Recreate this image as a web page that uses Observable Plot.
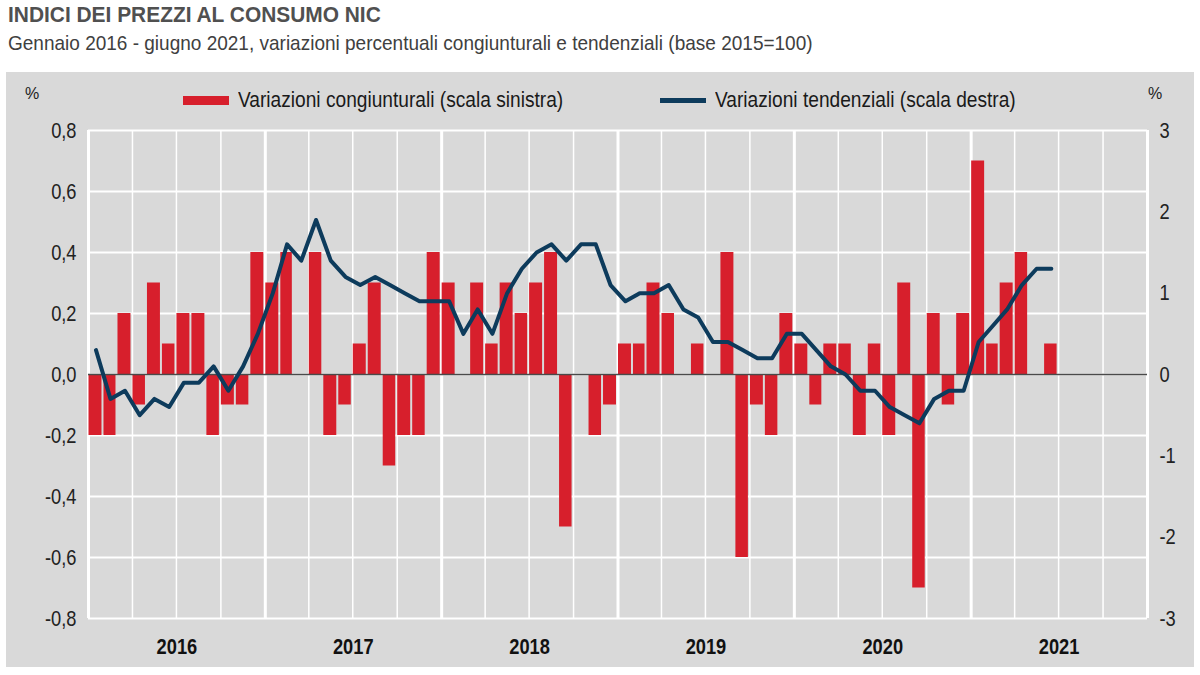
<!DOCTYPE html>
<html><head><meta charset="utf-8">
<script src="https://cdn.jsdelivr.net/npm/d3@7"></script>
<script src="https://cdn.jsdelivr.net/npm/@observablehq/plot@0.6"></script>
<style>
body{margin:0;background:#fff;font-family:"Liberation Sans Narrow","Arial Narrow","Liberation Sans",Arial,sans-serif;}
#wrap{position:relative;width:1200px;height:675px;overflow:hidden;}
#title{position:absolute;left:8px;top:2px;font-size:22px;font-weight:bold;color:#505050;white-space:nowrap;transform:scaleX(0.95);transform-origin:0 0;}
#sub{position:absolute;left:8px;top:31px;font-size:21px;color:#404040;white-space:nowrap;transform:scaleX(0.905);transform-origin:0 0;}
#panel{position:absolute;left:6px;top:72px;width:1188px;height:595px;background:#d9d9d9;}
#panel svg{position:absolute;left:0;top:0;}
.pct{position:absolute;top:13px;font-size:16px;color:#222;}
.leg{position:absolute;top:15px;font-size:22px;color:#1a1a1a;white-space:nowrap;display:flex;align-items:center;}
.leg span.t{display:inline-block;transform:scaleX(0.87);transform-origin:0 50%;}
.sw1{display:inline-block;width:46px;height:9px;background:#d71f2c;margin-right:9px;}
.sw2{display:inline-block;width:46px;height:5px;background:#0d3b5c;margin-right:9px;}
</style>
</head><body>
<div id="wrap">
  <div id="title">INDICI DEI PREZZI AL CONSUMO NIC</div>
  <div id="sub">Gennaio 2016 - giugno 2021, variazioni percentuali congiunturali e tendenziali (base 2015=100)</div>
  <div id="panel">
    <div class="pct" style="left:19px">%</div>
    <div class="pct" style="left:1142px">%</div>
    <div class="leg" style="left:177px"><span class="sw1"></span><span class="t">Variazioni congiunturali (scala sinistra)</span></div>
    <div class="leg" style="left:654px"><span class="sw2"></span><span class="t">Variazioni tendenziali (scala destra)</span></div>
  </div>
</div>
<script>
// Monthly data, January 2016 - June 2021
const startYear = 2016;
const congiunturali = [
  -0.2,-0.2,0.2,-0.1,0.3,0.1,0.2,0.2,-0.2,-0.1,-0.1,0.4,
  0.3,0.4,0.0,0.4,-0.2,-0.1,0.1,0.3,-0.3,-0.2,-0.2,0.4,
  0.3,0.0,0.3,0.1,0.3,0.2,0.3,0.4,-0.5,0.0,-0.2,-0.1,
  0.1,0.1,0.3,0.2,0.0,0.1,0.0,0.4,-0.6,-0.1,-0.2,0.2,
  0.1,-0.1,0.1,0.1,-0.2,0.1,-0.2,0.3,-0.7,0.2,-0.1,0.2,
  0.7,0.1,0.3,0.4,0.0,0.1
];
const tendenziali = [
  0.3,-0.3,-0.2,-0.5,-0.3,-0.4,-0.1,-0.1,0.1,-0.2,0.1,0.5,
  1.0,1.6,1.4,1.9,1.4,1.2,1.1,1.2,1.1,1.0,0.9,0.9,
  0.9,0.5,0.8,0.5,1.0,1.3,1.5,1.6,1.4,1.6,1.6,1.1,
  0.9,1.0,1.0,1.1,0.8,0.7,0.4,0.4,0.3,0.2,0.2,0.5,
  0.5,0.3,0.1,0.0,-0.2,-0.2,-0.4,-0.5,-0.6,-0.3,-0.2,-0.2,
  0.4,0.6,0.8,1.1,1.3,1.3
];
const years = [2016, 2017, 2018, 2019, 2020, 2021];
const leftTicks = [-0.8,-0.6,-0.4,-0.2,0,0.2,0.4,0.6,0.8];
const rightTicks = [-3,-2,-1,0,1,2,3];
const ratio = 3.75; // right scale / left scale

const data = congiunturali.map((c, i) => {
  const y = startYear + Math.floor(i / 12), m = i % 12;
  const start = new Date(Date.UTC(y, m, 1));
  const end = new Date(Date.UTC(y, m + 1, 1));
  const mid = new Date((+start + +end) / 2);
  return {start, end, mid, c, t: tendenziali[i]};
});

const quarters = [];
for (const y of years) for (const m of [3, 6, 9]) quarters.push(new Date(Date.UTC(y, m, 1)));
const yearLines = years.concat([2022]).map(y => new Date(Date.UTC(y, 0, 1)));
const yearMids = years.map(y => new Date(Date.UTC(y, 6, 2)));

const FONT = '"Liberation Sans","Arial",sans-serif';
const chart = Plot.plot({
  width: 1188,
  height: 595,
  marginLeft: 82,
  marginRight: 47,
  marginTop: 58,
  marginBottom: 49,
  style: {background: "transparent", fontFamily: FONT, fontSize: "22px", color: "#222"},
  x: {type: "utc", domain: [new Date(Date.UTC(2016,0,1)), new Date(Date.UTC(2022,0,1))]},
  y: {domain: [-0.8, 0.8]},
  marks: [
    Plot.ruleY(leftTicks, {stroke: "white", strokeWidth: 2}),
    Plot.ruleX(quarters, {stroke: "white", strokeWidth: 1.5}),
    Plot.ruleX(yearLines, {stroke: "white", strokeWidth: 3}),
    Plot.rectY(data, {x1: "start", x2: "end", y: "c", fill: "#d71f2c", insetLeft: 0.5, insetRight: 1.5}),
    Plot.ruleY([0], {stroke: "#4a4a4a", strokeWidth: 1.5}),
    Plot.line(data, {x: "mid", y: d => d.t / ratio, stroke: "#0d3b5c", strokeWidth: 4}),
    Plot.axisY({anchor: "left", ticks: leftTicks, tickFormat: d => d.toFixed(1).replace(".", ","), tickSize: 0, tickPadding: 12, label: null, fontSize: 22, fill: "#222"}),
    Plot.axisY({anchor: "right", ticks: rightTicks.map(v => v / ratio), tickFormat: d => String(Math.round(d * ratio)), tickSize: 0, tickPadding: 12, label: null, fontSize: 22, fill: "#222"}),
    Plot.axisX({ticks: yearMids, tickFormat: d => String(d.getUTCFullYear()), tickSize: 0, tickPadding: 20, label: null, fontWeight: "bold", fontSize: 22, fill: "#111"})
  ]
});
// condense the axis labels horizontally (narrow-font look), scaling about each label's anchor
chart.querySelectorAll("text").forEach(el => {
  const t = el.getAttribute("transform") || "";
  const xa = el.getAttribute("x");
  const px = (xa !== null && /^-?[\d.]+$/.test(xa.trim())) ? +xa : 0;
  el.setAttribute("transform", `${t} translate(${px},0) scale(0.83,1) translate(${-px},0)`);
});
document.getElementById("panel").appendChild(chart);
</script>
</body></html>
